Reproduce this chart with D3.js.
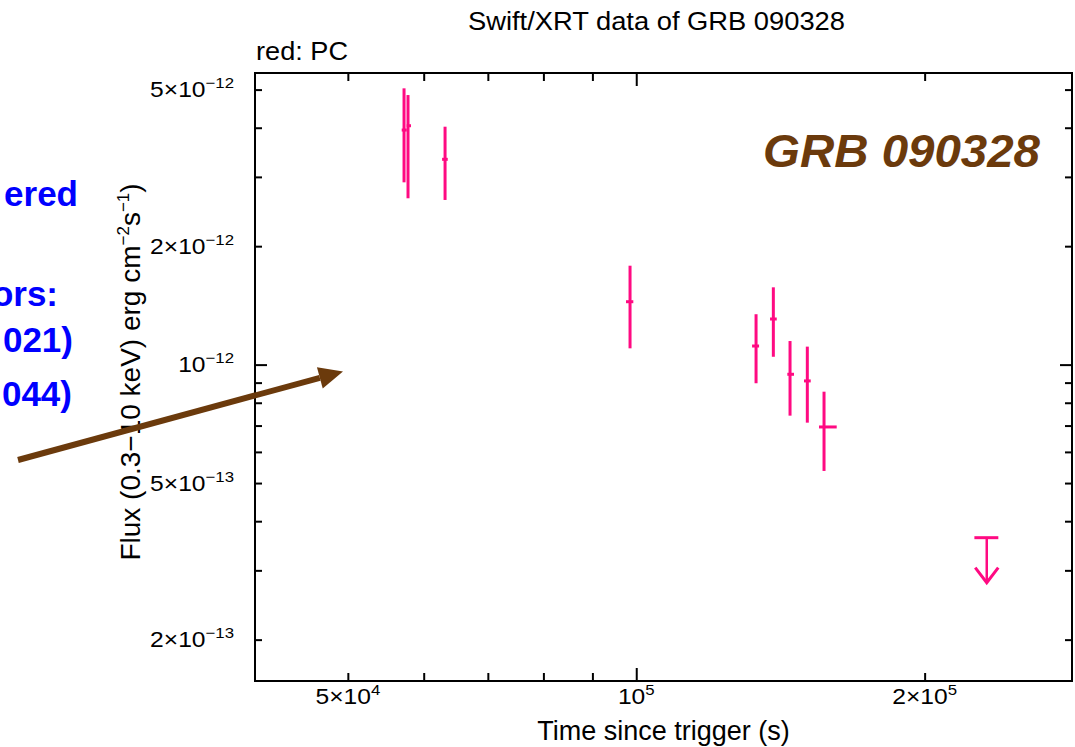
<!DOCTYPE html>
<html>
<head>
<meta charset="utf-8">
<script src="https://cdn.jsdelivr.net/npm/d3@7"></script>
<style>
  body { margin: 0; background: #ffffff; }
  svg { display: block; }
  text { font-family: "Liberation Sans", Arial, Helvetica, sans-serif; }
</style>
</head>
<body>
<svg id="chart" width="1075" height="747"></svg>
<script>
// Swift/XRT PC-mode light curve of GRB 090328 (0.3-10 keV flux, erg cm^-2 s^-1)
const times   = [57230, 57780, 63160, 98520, 133370, 139030, 144720, 150860, 157040];
const timeLo  = [56910, 57600, 62710, 97570, 132100, 137930, 143780, 149670, 155160];
const timeHi  = [57600, 58200, 63570, 99300, 134340, 140170, 146110, 152100, 161900];
const flux    = [3.946e-12, 4.047e-12, 3.325e-12, 1.445e-12, 1.115e-12, 1.306e-12, 9.45e-13, 9.09e-13, 6.943e-13];
const fluxLo  = [2.906e-12, 2.647e-12, 2.621e-12, 1.100e-12, 8.967e-13, 1.047e-12, 7.418e-13, 7.12e-13, 5.367e-13];
const fluxHi  = [5.037e-12, 4.843e-12, 4.024e-12, 1.784e-12, 1.343e-12, 1.572e-12, 1.148e-12, 1.111e-12, 8.535e-13];

// upper limit
const limitTime   = [232200];
const limitTimeLo = [225400];
const limitTimeHi = [238750];
const limitFlux   = [3.632e-13];

// axis ticks and labels
const xMajorTicks = [1e5];
const xMinorTicks = [5e4, 6e4, 7e4, 8e4, 9e4, 2e5];
const xLabelValues = [5e4, 1e5, 2e5];
const xLabelMantissa = ["5×10", "10", "2×10"];
const xLabelExponent = ["4", "5", "5"];

const yMajorTicks = [1e-12];
const yMinorTicks = [2e-13, 3e-13, 4e-13, 5e-13, 6e-13, 7e-13, 8e-13, 9e-13, 2e-12, 3e-12, 4e-12, 5e-12];
const yLabelValues = [2e-13, 5e-13, 1e-12, 2e-12, 5e-12];
const yLabelMantissa = ["2×10", "5×10", "10", "2×10", "5×10"];
const yLabelExponent = ["−13", "−13", "−12", "−12", "−12"];

// side notes (partially off the left edge)
const noteLines = ["ered", "ors:", "021)", "044)"];
const noteRight = [78, 58, 73, 72];
const noteBase  = [206, 306, 352, 406];

const pink = "#ff0a82";
const brown = "#6b3a0c";

const svg = d3.select("#chart");
const plot = { left: 255, right: 1072, top: 73, bottom: 681 };

const x = d3.scaleLog().domain([4e4, 2.85e5]).range([plot.left, plot.right]);
const y = d3.scaleLog().domain([1.57e-13, 5.51e-12]).range([plot.bottom, plot.top]);

// ---- inward ticks on all four sides ----
function styleTicks(g) {
  g.select(".domain").remove();
  g.selectAll(".tick line").attr("stroke", "#000").attr("stroke-width", 2);
}
const tickSets = [
  [d3.axisBottom(x).tickValues(xMinorTicks).tickSize(-8), `translate(0,${plot.bottom})`],
  [d3.axisBottom(x).tickValues(xMajorTicks).tickSize(-13), `translate(0,${plot.bottom})`],
  [d3.axisTop(x).tickValues(xMinorTicks).tickSize(-8), `translate(0,${plot.top})`],
  [d3.axisTop(x).tickValues(xMajorTicks).tickSize(-13), `translate(0,${plot.top})`],
  [d3.axisLeft(y).tickValues(yMinorTicks).tickSize(-7), `translate(${plot.left},0)`],
  [d3.axisLeft(y).tickValues(yMajorTicks).tickSize(-12), `translate(${plot.left},0)`],
  [d3.axisRight(y).tickValues(yMinorTicks).tickSize(-7), `translate(${plot.right},0)`],
  [d3.axisRight(y).tickValues(yMajorTicks).tickSize(-12), `translate(${plot.right},0)`]
];
tickSets.forEach(([axis, tr]) => {
  svg.append("g").attr("transform", tr).call(axis.tickFormat("")).call(styleTicks);
});

// frame
svg.append("rect")
  .attr("x", plot.left).attr("y", plot.top)
  .attr("width", plot.right - plot.left).attr("height", plot.bottom - plot.top)
  .attr("fill", "none").attr("stroke", "#000").attr("stroke-width", 2);

// ---- tick labels with superscript exponents ----
const xLab = svg.append("g");
xLabelValues.forEach((v, i) => {
  const t = xLab.append("text")
    .attr("transform", `translate(${x(v)},704) scale(1.12,1)`)
    .attr("text-anchor", "middle")
    .attr("font-size", 22).attr("fill", "#000");
  t.append("tspan").text(xLabelMantissa[i]);
  t.append("tspan").attr("dy", -9).attr("font-size", 15).text(xLabelExponent[i]);
});

const yLab = svg.append("g");
yLabelValues.forEach((v, i) => {
  const t = yLab.append("text")
    .attr("transform", `translate(234,${y(v) + 7.5}) scale(1.12,1)`)
    .attr("text-anchor", "end")
    .attr("font-size", 22).attr("fill", "#000");
  t.append("tspan").text(yLabelMantissa[i]);
  t.append("tspan").attr("dy", -9).attr("font-size", 15).text(yLabelExponent[i]);
});

// ---- axis titles ----
svg.append("text")
  .attr("x", (plot.left + plot.right) / 2).attr("y", 740)
  .attr("text-anchor", "middle").attr("font-size", 27)
  .text("Time since trigger (s)");

const yt = svg.append("text")
  .attr("transform", "translate(140,372) rotate(-90)")
  .attr("text-anchor", "middle").attr("font-size", 28);
yt.append("tspan").text("Flux (0.3−10 keV) erg cm");
yt.append("tspan").attr("dy", -11).attr("font-size", 17).text("−2");
yt.append("tspan").attr("dy", 11).text("s");
yt.append("tspan").attr("dy", -11).attr("font-size", 17).text("−1");
yt.append("tspan").attr("dy", 11).text(")");

svg.append("text")
  .attr("x", 468).attr("y", 30)
  .attr("font-size", 25).attr("textLength", 377).attr("lengthAdjust", "spacingAndGlyphs")
  .text("Swift/XRT data of GRB 090328");

svg.append("text")
  .attr("x", 256).attr("y", 60)
  .attr("font-size", 25).attr("textLength", 92).attr("lengthAdjust", "spacingAndGlyphs")
  .text("red: PC");

// ---- data: error bars ----
const pts = svg.append("g").attr("stroke", pink).attr("stroke-width", 3).attr("fill", "none");
times.forEach((t, i) => {
  pts.append("line")
    .attr("x1", x(t)).attr("x2", x(t))
    .attr("y1", y(fluxHi[i])).attr("y2", y(fluxLo[i]));
  pts.append("line")
    .attr("x1", x(timeLo[i])).attr("x2", x(timeHi[i]))
    .attr("y1", y(flux[i])).attr("y2", y(flux[i]));
});

// upper limit: bar plus downward arrow
limitTime.forEach((t, i) => {
  const cx = x(t), cy = y(limitFlux[i]);
  pts.append("line")
    .attr("x1", x(limitTimeLo[i])).attr("x2", x(limitTimeHi[i]))
    .attr("y1", cy).attr("y2", cy);
  pts.append("line")
    .attr("x1", cx).attr("x2", cx).attr("y1", cy).attr("y2", cy + 45)
    .attr("stroke-width", 2.5);
  pts.append("path")
    .attr("d", `M${cx - 11.5},${cy + 30} L${cx},${cy + 45} L${cx + 11.5},${cy + 30}`)
    .attr("stroke-linejoin", "miter");
});

// ---- label inside the panel ----
svg.append("text")
  .attr("x", 763).attr("y", 167)
  .attr("font-size", 47).attr("font-weight", "bold").attr("font-style", "italic")
  .attr("fill", brown).attr("textLength", 277).attr("lengthAdjust", "spacingAndGlyphs")
  .text("GRB 090328");

// ---- side notes ----
noteLines.forEach((s, i) => {
  svg.append("text")
    .attr("x", noteRight[i]).attr("y", noteBase[i])
    .attr("text-anchor", "end")
    .attr("font-size", 35).attr("font-weight", "bold").attr("fill", "#0000ff")
    .text(s);
});

// ---- pointer arrow ----
const a0 = [18, 460], a1 = [343, 371.5];
const ang = Math.atan2(a1[1] - a0[1], a1[0] - a0[0]);
const headLen = 24, headHalf = 11;
const bx = a1[0] - headLen * Math.cos(ang), by = a1[1] - headLen * Math.sin(ang);
svg.append("line")
  .attr("x1", a0[0]).attr("y1", a0[1]).attr("x2", bx).attr("y2", by)
  .attr("stroke", brown).attr("stroke-width", 6);
svg.append("path")
  .attr("d", `M${a1[0]},${a1[1]} L${bx + headHalf * Math.sin(ang)},${by - headHalf * Math.cos(ang)} L${bx - headHalf * Math.sin(ang)},${by + headHalf * Math.cos(ang)} Z`)
  .attr("fill", brown);
</script>
</body>
</html>
